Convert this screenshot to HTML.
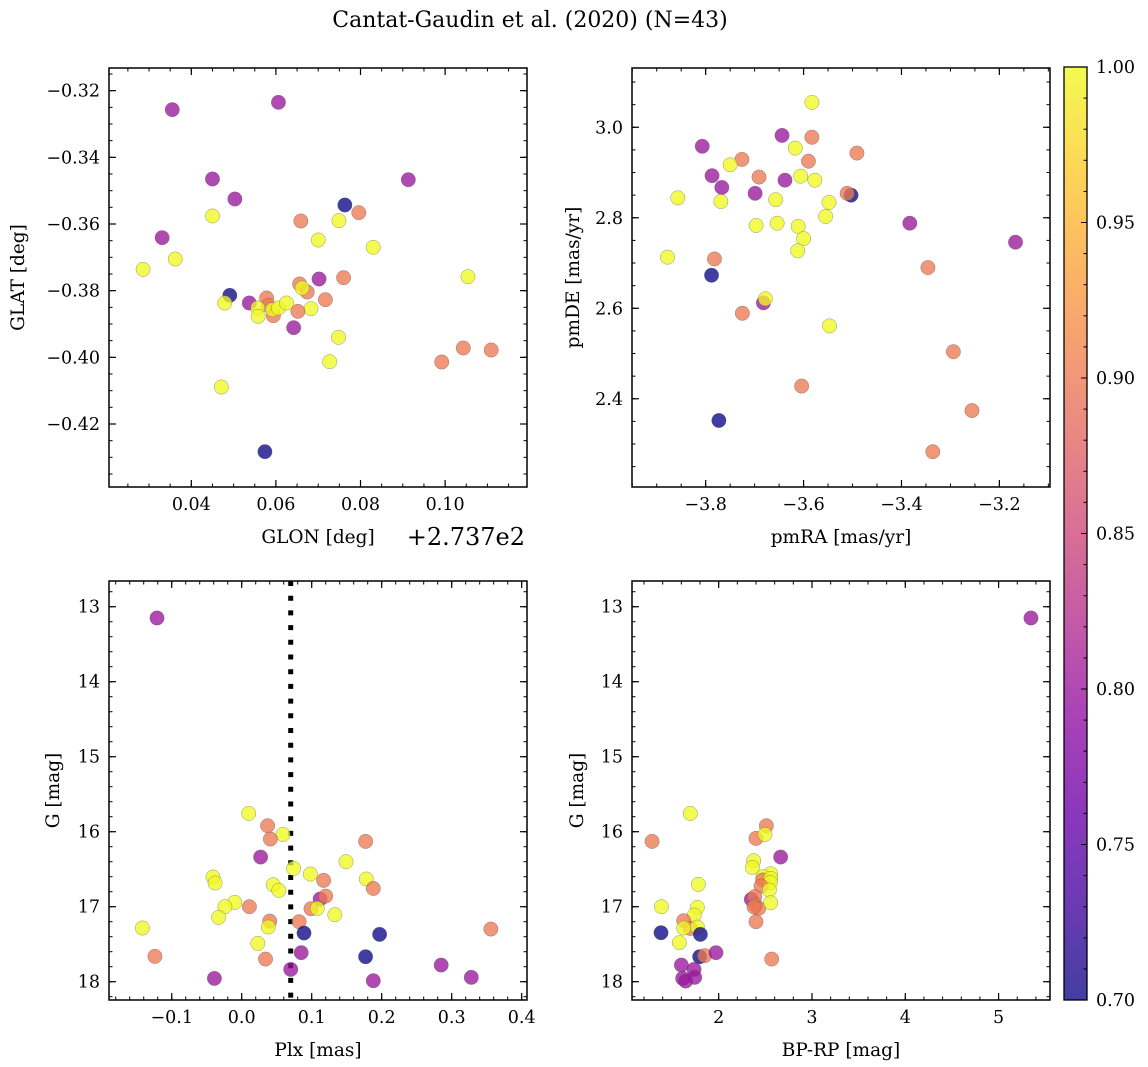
<!DOCTYPE html>
<html><head><meta charset="utf-8">
<style>
html,body{margin:0;padding:0;background:#fff;}
svg{display:block;font-family:"DejaVu Serif","Liberation Serif",serif;}
</style></head>
<body>
<svg id="fig" width="1148" height="1067" viewBox="0 0 1148 1067" xmlns="http://www.w3.org/2000/svg">
<defs>
<linearGradient id="cbgrad" x1="0" y1="1" x2="0" y2="0">
<stop offset="0" stop-color="#0d0887"/><stop offset="0.1" stop-color="#41049d"/><stop offset="0.2" stop-color="#6a00a8"/><stop offset="0.3" stop-color="#8f0da4"/><stop offset="0.4" stop-color="#b12a90"/><stop offset="0.5" stop-color="#cc4778"/><stop offset="0.6" stop-color="#e16462"/><stop offset="0.7" stop-color="#f2844b"/><stop offset="0.8" stop-color="#fca636"/><stop offset="0.9" stop-color="#fcce25"/><stop offset="1" stop-color="#f0f921"/>
</linearGradient>
</defs>
<text x="530" y="27" text-anchor="middle" font-size="22">Cantat-Gaudin et al. (2020) (N=43)</text>
</svg>
<script>
// ---- data ----
const glon = [0.0355,0.0606,0.0450,0.0503,0.0913,0.0763,0.0796,0.0450,0.0659,0.0749,0.0700,0.0830,0.0331,0.0362,0.0286,0.0702,0.0760,0.1054,0.0656,0.0674,0.0662,0.0491,0.0479,0.0537,0.0578,0.0582,0.0557,0.0558,0.0594,0.0592,0.0606,0.0625,0.0683,0.0652,0.0717,0.0642,0.0748,0.0727,0.0992,0.1043,0.1109,0.0471,0.0574];
const glat = [-0.3257,-0.3235,-0.3465,-0.3525,-0.3467,-0.3543,-0.3566,-0.3576,-0.3591,-0.3590,-0.3648,-0.3670,-0.3641,-0.3705,-0.3736,-0.3765,-0.3761,-0.3758,-0.3780,-0.3804,-0.3792,-0.3814,-0.3837,-0.3837,-0.3822,-0.3844,-0.3852,-0.3877,-0.3875,-0.3857,-0.3852,-0.3837,-0.3854,-0.3862,-0.3827,-0.3911,-0.3940,-0.4013,-0.4014,-0.3972,-0.3978,-0.4089,-0.4283];
const probA = [0.8,0.8,0.8,0.8,0.8,0.7,0.9,1,0.9,1,1,1,0.8,1,1,0.8,0.9,1,0.9,0.9,1,0.7,1,0.8,0.9,0.9,1,1,0.9,1,1,1,1,0.9,0.9,0.8,1,1,0.9,0.9,0.9,1,0.7];

const pmra = [-3.583,-3.644,-3.583,-3.807,-3.617,-3.491,-3.726,-3.750,-3.590,-3.787,-3.691,-3.638,-3.606,-3.577,-3.767,-3.699,-3.503,-3.511,-3.857,-3.769,-3.657,-3.548,-3.555,-3.697,-3.654,-3.611,-3.383,-3.600,-3.612,-3.167,-3.878,-3.782,-3.346,-3.788,-3.682,-3.678,-3.725,-3.547,-3.294,-3.604,-3.256,-3.773,-3.336];
const pmde = [3.055,2.982,2.978,2.958,2.954,2.943,2.929,2.917,2.925,2.893,2.890,2.883,2.892,2.883,2.867,2.854,2.850,2.854,2.844,2.836,2.840,2.834,2.803,2.783,2.788,2.781,2.788,2.754,2.727,2.746,2.713,2.709,2.690,2.673,2.612,2.621,2.589,2.561,2.504,2.428,2.374,2.352,2.283];
const probB = [1,0.8,0.9,0.8,1,0.9,0.9,1,0.9,0.8,0.9,0.8,1,1,0.8,0.8,0.7,0.9,1,1,1,1,1,1,1,1,0.8,1,1,0.8,1,0.9,0.9,0.7,0.8,1,0.9,1,0.9,0.9,0.9,0.7,0.9];

const plx = [-0.121,0.010,0.037,0.059,0.041,0.177,0.027,0.149,0.074,0.098,-0.041,-0.038,0.117,0.178,0.045,0.053,0.188,0.112,0.120,-0.010,-0.024,0.011,0.099,0.108,0.133,-0.033,0.040,0.082,0.038,-0.142,0.356,0.089,0.197,0.023,0.085,-0.124,0.177,0.034,0.070,0.285,-0.039,0.188,0.328];
const gmagC = [13.15,15.756,15.92,16.036,16.098,16.129,16.338,16.40,16.489,16.564,16.604,16.684,16.649,16.631,16.707,16.782,16.756,16.898,16.858,16.942,17.0,17.0,17.027,17.022,17.107,17.142,17.191,17.2,17.271,17.284,17.298,17.351,17.369,17.489,17.613,17.662,17.667,17.698,17.836,17.778,17.956,17.987,17.942];
const probC = [0.8,1,0.9,1,0.9,0.9,0.8,1,1,1,1,1,0.9,1,1,1,0.9,0.8,0.9,1,1,0.9,0.9,1,1,1,0.9,0.9,1,1,0.9,0.7,0.7,1,0.8,0.9,0.7,0.9,0.8,0.8,0.8,0.8,0.8];

const bprp = [5.347,1.696,1.286,2.511,2.4,2.496,2.664,2.375,2.361,2.557,2.475,2.471,2.557,2.554,2.454,1.782,2.543,2.35,2.386,2.393,2.429,2.379,2.557,1.386,1.771,1.739,2.4,1.625,1.696,1.625,1.771,1.382,1.804,1.579,1.796,1.85,1.971,2.568,1.6,1.736,1.614,1.646,1.743];
const gmagD = [13.15,15.756,16.129,15.92,16.089,16.036,16.338,16.387,16.476,16.56,16.6,16.644,16.622,16.68,16.724,16.702,16.778,16.902,16.867,16.978,17.022,17.004,16.947,17.0,17.009,17.111,17.2,17.187,17.289,17.284,17.271,17.347,17.369,17.48,17.667,17.653,17.613,17.698,17.778,17.836,17.956,17.991,17.942];
const probD = [0.8,1,0.9,0.9,0.9,1,0.8,1,1,1,1,0.9,1,1,0.9,1,1,0.8,0.9,0.9,0.9,0.9,1,1,1,1,0.9,0.9,0.9,1,1,0.7,0.7,1,0.7,0.9,0.8,0.9,0.8,0.8,0.8,0.8,0.8];

const plxLine = [0.07];
const cbTicks = [0.70,0.75,0.80,0.85,0.90,0.95,1.00];

// ---- drawing ----
const NS = "http://www.w3.org/2000/svg";
const svg = document.getElementById('fig');
function mk(tag, attrs, parent){const e=document.createElementNS(NS,tag);for(const k in attrs)e.setAttribute(k,attrs[k]);(parent||svg).appendChild(e);return e;}
const stops=[[13,8,135],[65,4,157],[106,0,168],[143,13,164],[177,42,144],[204,71,120],[225,100,98],[242,132,75],[252,166,54],[252,206,37],[240,249,33]];
function plasma(t){t=Math.max(0,Math.min(1,t))*10;const i=Math.min(9,Math.floor(t)),f=t-i;const a=stops[i],b=stops[i+1];return 'rgb('+a.map((v,k)=>Math.round(v+(b[k]-v)*f)).join(',')+')';}
function fmt(v,d){const s=Math.abs(v).toFixed(d);return (v< -1e-9?'\u2212':'')+s;}

function panel(cfg){
  const g=mk('g',{});
  
  
  const sx=v=>cfg.x0+(v-cfg.xd[0])/(cfg.xd[1]-cfg.xd[0])*(cfg.x1-cfg.x0);
  const sy=v=>cfg.y0+(v-cfg.yd[0])/(cfg.yd[1]-cfg.yd[0])*(cfg.y1-cfg.y0);
  const xmin=Math.min(...cfg.xd),xmax=Math.max(...cfg.xd),ymin=Math.min(...cfg.yd),ymax=Math.max(...cfg.yd);
  for(let k=Math.ceil(xmin/cfg.xminor-1e-9);k*cfg.xminor<=xmax+1e-9;k++){const X=sx(k*cfg.xminor);
    mk('line',{x1:X,x2:X,y1:cfg.y1,y2:cfg.y1-3.5,stroke:'#000','stroke-width':1},g);mk('line',{x1:X,x2:X,y1:cfg.y0,y2:cfg.y0+3.5,stroke:'#000','stroke-width':1},g);}
  for(let k=Math.ceil(ymin/cfg.yminor-1e-9);k*cfg.yminor<=ymax+1e-9;k++){const Y=sy(k*cfg.yminor);
    mk('line',{x1:cfg.x0,x2:cfg.x0+3.5,y1:Y,y2:Y,stroke:'#000','stroke-width':1},g);mk('line',{x1:cfg.x1,x2:cfg.x1-3.5,y1:Y,y2:Y,stroke:'#000','stroke-width':1},g);}
  cfg.xt.forEach(v=>{const X=sx(v);
    mk('line',{x1:X,x2:X,y1:cfg.y1,y2:cfg.y1-7,stroke:'#000','stroke-width':1.2},g);mk('line',{x1:X,x2:X,y1:cfg.y0,y2:cfg.y0+7,stroke:'#000','stroke-width':1.2},g);
    const t=mk('text',{x:X,y:cfg.y1+23,'text-anchor':'middle','font-size':17.5},g);t.textContent=fmt(v,cfg.xdec);
    
    });
  cfg.yt.forEach(v=>{const Y=sy(v);
    mk('line',{x1:cfg.x0,x2:cfg.x0+7,y1:Y,y2:Y,stroke:'#000','stroke-width':1.2},g);mk('line',{x1:cfg.x1,x2:cfg.x1-7,y1:Y,y2:Y,stroke:'#000','stroke-width':1.2},g);
    const t=mk('text',{x:cfg.x0-9,y:Y+6,'text-anchor':'end','font-size':17.5},g);t.textContent=fmt(v,cfg.ydec);
    
    });
  if(cfg.vline){cfg.vline.forEach(v=>{const l=mk('line',{x1:sx(v),x2:sx(v),y1:cfg.y0,y2:cfg.y1,stroke:'#000','stroke-width':5,'stroke-dasharray':'5 9.7'},g);
    
    });}
  const pg=mk('g',{},g);
  cfg.xs.forEach((v,i)=>{const c=mk('circle',{cx:sx(v),cy:sy(cfg.ys[i]),r:7.2,fill:plasma((cfg.p[i]-0.7)/0.3),'fill-opacity':0.78,stroke:'#555','stroke-opacity':0.6,'stroke-width':0.5},pg);
    
    });
  const fr=mk('rect',{x:cfg.x0,y:cfg.y0,width:cfg.x1-cfg.x0,height:cfg.y1-cfg.y0,fill:'none',stroke:'#000','stroke-width':1.5},g);
  
  
  const xl=mk('text',{x:cfg.xlx,y:cfg.y1+56,'text-anchor':'middle','font-size':18.5},g);xl.textContent=cfg.xlabel;
  
  
  const yl=mk('text',{x:0,y:0,'text-anchor':'middle','font-size':18.5,transform:'translate('+cfg.ylx+','+((cfg.y0+cfg.y1)/2)+') rotate(-90)'},g);yl.textContent=cfg.ylabel;
  
  
}

panel({name:'glon-glat-panel',x0:109,x1:527,y0:68,y1:487,xd:[0.02054,0.11936],yd:[-0.3132,-0.4389],xt:[0.04,0.06,0.08,0.10],yt:[-0.32,-0.34,-0.36,-0.38,-0.40,-0.42],xminor:0.005,yminor:0.005,xdec:2,ydec:2,xs:glon,ys:glat,p:probA,xlabel:'GLON [deg]',xlx:318,ylabel:'GLAT [deg]',ylx:24});
panel({name:'proper-motion-panel',x0:632,x1:1050,y0:68,y1:487,xd:[-3.9505,-3.0966],yd:[3.131,2.205],xt:[-3.8,-3.6,-3.4,-3.2],yt:[2.4,2.6,2.8,3.0],xminor:0.05,yminor:0.05,xdec:1,ydec:1,xs:pmra,ys:pmde,p:probB,xlabel:'pmRA [mas/yr]',xlx:841,ylabel:'pmDE [mas/yr]',ylx:579});
panel({name:'parallax-mag-panel',x0:109,x1:527,y0:581,y1:1000,xd:[-0.1896,0.4076],yd:[12.657,18.244],xt:[-0.1,0.0,0.1,0.2,0.3,0.4],yt:[13,14,15,16,17,18],xminor:0.02,yminor:0.2,xdec:1,ydec:0,xs:plx,ys:gmagC,p:probC,xlabel:'Plx [mas]',xlx:318,ylabel:'G [mag]',ylx:59,vline:plxLine});
panel({name:'cmd-panel',x0:632,x1:1050,y0:581,y1:1000,xd:[1.071,5.551],yd:[12.657,18.244],xt:[2,3,4,5],yt:[13,14,15,16,17,18],xminor:0.2,yminor:0.2,xdec:0,ydec:0,xs:bprp,ys:gmagD,p:probD,xlabel:'BP-RP [mag]',xlx:841,ylabel:'G [mag]',ylx:583});

const off=mk('text',{x:525,y:545,'text-anchor':'end','font-size':24});off.textContent='+2.737e2';



// colorbar
const cb=mk('g',{});


const cx0=1064,cx1=1087,cy0=67,cy1=1000;
mk('rect',{x:cx0,y:cy0,width:cx1-cx0,height:cy1-cy0,fill:'url(#cbgrad)','fill-opacity':0.78},cb);
const cy=v=>cy1-(v-0.7)/0.3*(cy1-cy0);
for(let k=70;k<=100;k++){const Y=cy(k/100);const maj=(k%5===0);mk('line',{x1:cx1,x2:cx1-(maj?6:3.5),y1:Y,y2:Y,stroke:'#000','stroke-width':1},cb);}
cbTicks.forEach(v=>{const t=mk('text',{x:cx1+9,y:cy(v)+6,'font-size':17.5},cb);t.textContent=v.toFixed(2);
  
  });
mk('rect',{x:cx0,y:cy0,width:cx1-cx0,height:cy1-cy0,fill:'none',stroke:'#000','stroke-width':1.3},cb);
</script>
</body></html>
